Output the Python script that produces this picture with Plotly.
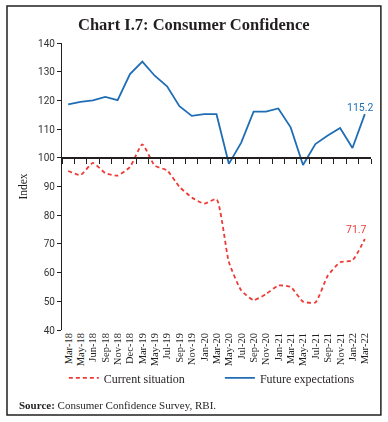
import plotly.graph_objects as go

categories = ["Mar-18", "May-18", "Jun-18", "Sep-18", "Nov-18", "Dec-18", "Mar-19", "May-19",
              "Jul-19", "Sep-19", "Nov-19", "Jan-20", "Mar-20", "May-20", "Jul-20", "Sep-20",
              "Nov-20", "Jan-21", "Mar-21", "May-21", "Jul-21", "Sep-21", "Nov-21", "Jan-22", "Mar-22"]
current_situation = [95.4, 94.0, 98.2, 94.7, 93.8, 96.8, 104.7, 97.3, 95.6, 89.9, 86.2, 84.0, 85.6,
                     63.7, 53.8, 50.4, 52.5, 55.5, 55.0, 49.9, 49.6, 58.9, 63.6, 64.3, 71.7]
future_expectations = [118.6, 119.5, 120.0, 121.2, 120.1, 129.2, 133.5, 128.6, 124.9, 118.0, 114.6,
                       115.2, 115.2, 97.9, 105.3, 116.1, 116.1, 117.2, 110.6, 97.5, 104.8, 107.8,
                       110.4, 103.4, 115.2]

RED = "#EE3B36"
BLUE = "#1F6EB5"
SERIF = "Liberation Serif"
SANS = "Roboto"
INK = "#231F20"

xs = list(range(len(categories)))

fig = go.Figure()
fig.add_trace(go.Scatter(x=xs, y=current_situation, name="Current situation", mode="lines",
                         legend="legend",
                         line=dict(color=RED, width=1.8, dash="4px,3px", shape="spline", smoothing=0.5)))
fig.add_trace(go.Scatter(x=xs, y=future_expectations, name="Future expectations", mode="lines",
                         legend="legend2",
                         line=dict(color=BLUE, width=1.8)))
# carrier trace so that the crossing axis (at 100) is drawn
fig.add_trace(go.Scatter(x=xs, y=current_situation, xaxis="x2", mode="markers", opacity=0,
                         showlegend=False, hoverinfo="skip"))

fig.add_annotation(x=xs[-1], y=current_situation[-1], text=f"{current_situation[-1]:.1f}",
                   showarrow=False, xshift=-8, yshift=10, font=dict(family=SANS, size=10.5, color=RED))
fig.add_annotation(x=xs[-1], y=future_expectations[-1], text=f"{future_expectations[-1]:.1f}",
                   showarrow=False, xshift=-5, yshift=7, font=dict(family=SANS, size=10.5, color=BLUE))

# title & source
fig.add_annotation(xref="paper", yref="paper", x=0.427, y=1.063, text="<b>Chart I.7: Consumer Confidence</b>",
                   showarrow=False, xanchor="center", yanchor="middle",
                   font=dict(family=SERIF, size=16.5, color=INK))
fig.add_annotation(xref="paper", yref="paper", x=-0.146, y=-0.261,
                   text="<b>Source:</b> Consumer Confidence Survey, RBI.",
                   showarrow=False, xanchor="left", yanchor="middle",
                   font=dict(family=SERIF, size=11, color=INK))
# frame
fig.add_shape(type="rect", xref="paper", yref="paper", x0=-0.178, x1=1.032, y0=-0.296, y1=1.129,
              line=dict(color=INK, width=1.5), layer="above")

legend_common = dict(orientation="h", xanchor="left", y=-0.167, yanchor="middle",
                     font=dict(family=SERIF, size=12, color=INK), bgcolor="rgba(0,0,0,0)")

fig.update_layout(
    width=388, height=422,
    margin=dict(l=62, r=17, t=43, b=92),
    paper_bgcolor="white", plot_bgcolor="white",
    showlegend=True,
    legend=dict(x=0.006, **legend_common),
    legend2=dict(x=0.511, **legend_common),
    xaxis=dict(range=[-0.5, len(categories) - 0.5], tickmode="array", tickvals=xs, ticktext=categories,
               tickangle=-90, showline=False, ticks="", showgrid=False, zeroline=False,
               tickfont=dict(family=SERIF, size=10.5, color=INK)),
    xaxis2=dict(overlaying="x", anchor="free", position=0.6, side="bottom",
                range=[-0.5, len(categories) - 0.5], tickmode="array",
                tickvals=[i - 0.5 for i in range(len(categories) + 1)],
                ticks="outside", ticklen=5, tickcolor=INK, tickwidth=1.2,
                showticklabels=False, showline=True, linecolor=INK, linewidth=1.5,
                showgrid=False, zeroline=False),
    yaxis=dict(range=[40, 140], dtick=10, ticks="outside", ticklen=4, tickcolor=INK,
               showline=True, linecolor=INK, linewidth=1.2, showgrid=False, zeroline=False,
               tickfont=dict(family=SANS, size=10, color="#333333"),
               title=dict(text="Index", font=dict(family=SERIF, size=11.5, color=INK), standoff=8)),
)

fig.write_html("out.html", config={"displayModeBar": False},
               post_script="document.body.style.margin='0';")
